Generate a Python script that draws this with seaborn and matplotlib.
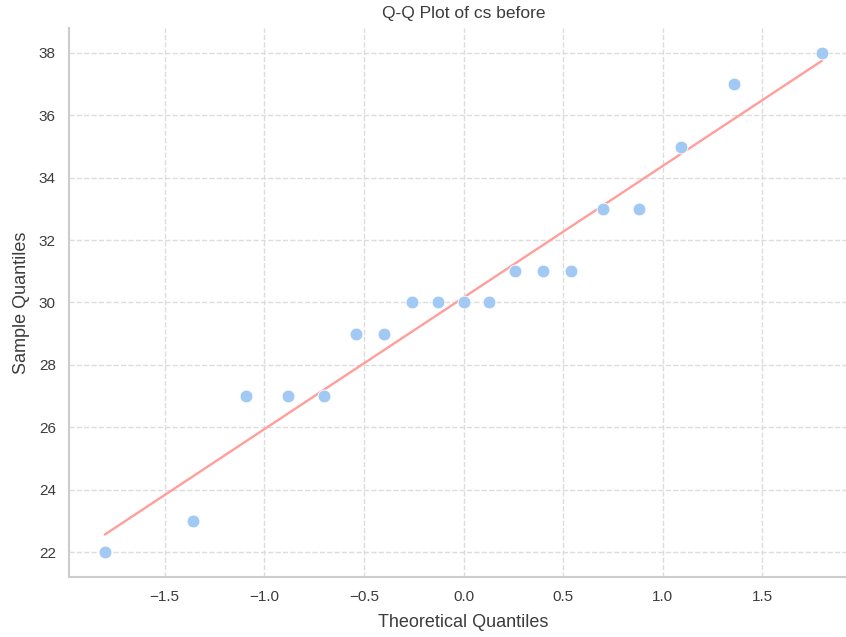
import numpy as np
import pandas as pd
import matplotlib
matplotlib.use("Agg")
import matplotlib.pyplot as plt
import seaborn as sns

# Theoretical normal quantiles and ordered sample values for "cs before"
theoretical = [-1.80, -1.36, -1.09, -0.88, -0.70, -0.54, -0.40, -0.26, -0.13, 0.00,
               0.13, 0.26, 0.40, 0.54, 0.70, 0.88, 1.09, 1.36, 1.80]
sample = [22, 23, 27, 27, 27, 29, 29, 30, 30, 30,
          30, 31, 31, 31, 33, 33, 35, 37, 38]

df = pd.DataFrame({"Theoretical Quantiles": theoretical, "Sample Quantiles": sample})

sns.set_theme(style="whitegrid", palette="pastel")
plt.rcParams["font.family"] = ["Liberation Sans", "DejaVu Sans"]
plt.rcParams["grid.linestyle"] = "--"

pal = sns.color_palette("pastel")
text_color = "#3c3c3c"

fig = plt.figure(figsize=(8.46, 6.37), dpi=100)
ax = fig.add_axes([69 / 846, 60 / 637, (858 - 69) / 846, (577 - 28) / 637])

sns.scatterplot(data=df, x="Theoretical Quantiles", y="Sample Quantiles",
                color=pal[0], s=85, edgecolor="white", linewidth=0.6, ax=ax, zorder=3)

# Least-squares reference line through the quantile pairs
slope, intercept = np.polyfit(df["Theoretical Quantiles"], df["Sample Quantiles"], 1)
xs = np.array([min(theoretical), max(theoretical)])
sns.lineplot(x=xs, y=slope * xs + intercept, color=pal[3], linewidth=1.7, ax=ax, zorder=2)

ax.grid(True, linestyle="--", color="#dcdcdc", linewidth=1.0)
ax.set_xticks([-1.5, -1.0, -0.5, 0.0, 0.5, 1.0, 1.5])
ax.set_yticks([22, 24, 26, 28, 30, 32, 34, 36, 38])
ax.tick_params(labelsize=11, colors=text_color)
ax.set_xlabel("Theoretical Quantiles", fontsize=13, color=text_color, labelpad=7)
ax.set_ylabel("Sample Quantiles", fontsize=13, color=text_color, labelpad=6)
ax.set_title("Q-Q Plot of cs before", fontsize=12.5, color=text_color, pad=7)
sns.despine(ax=ax)
for sp in ("left", "bottom"):
    ax.spines[sp].set_color("#cccccc")
    ax.spines[sp].set_linewidth(1.5)

fig.savefig("out.png", dpi=100)
